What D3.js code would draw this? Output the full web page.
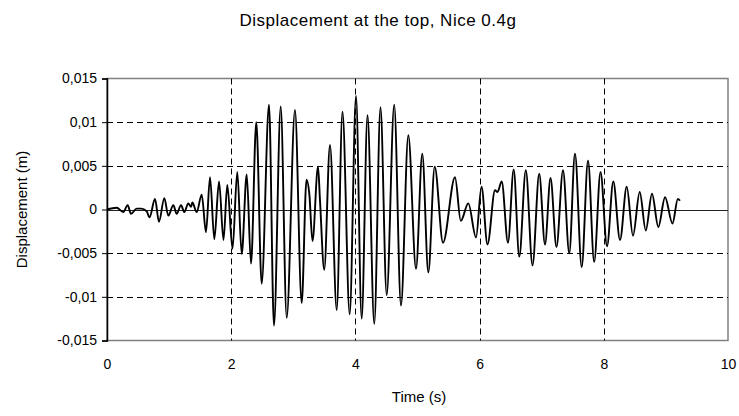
<!DOCTYPE html>
<html>
<head>
<meta charset="utf-8">
<script src="https://cdn.jsdelivr.net/npm/d3@7/dist/d3.min.js"></script>
<style>
  html, body { margin: 0; padding: 0; background: #fff; }
  svg text { font-family: "Liberation Sans", Arial, sans-serif; fill: #000; }
</style>
</head>
<body>
<svg id="chart" width="739" height="416"></svg>
<script>
// ---- data ----
const title = "Displacement at the top, Nice 0.4g";
const xLabel = "Time (s)";
const yLabel = "Displacement (m)";
const xTicks = [0, 2, 4, 6, 8, 10];
const yTicks = [-0.015, -0.01, -0.005, 0, 0.005, 0.01, 0.015];
const yTickLabels = ["-0,015", "-0,01", "-0,005", "0", "0,005", "0,01", "0,015"];

// time (s) of each turning point of the trace
const time = [
  0, 0.156, 0.262, 0.333, 0.386, 0.478, 0.55, 0.639, 0.684, 0.773,
  0.837, 0.923, 0.987, 1.068, 1.122, 1.192, 1.245, 1.309, 1.353, 1.374,
  1.444, 1.525, 1.594, 1.659, 1.728, 1.804, 1.876, 1.937, 2.021, 2.098,
  2.169, 2.25, 2.319, 2.404, 2.491, 2.609, 2.689, 2.797, 2.894, 3.027,
  3.135, 3.213, 3.258, 3.309, 3.398, 3.43, 3.498, 3.591, 3.699, 3.792,
  3.908, 4.01, 4.101, 4.195, 4.304, 4.404, 4.504, 4.625, 4.734, 4.852,
  4.976, 5.077, 5.174, 5.277, 5.411, 5.604, 5.697, 5.818, 5.942, 6.031,
  6.127, 6.248, 6.288, 6.356, 6.457, 6.549, 6.639, 6.744, 6.852, 6.96,
  7.053, 7.142, 7.238, 7.343, 7.444, 7.536, 7.644, 7.746, 7.845, 7.947,
  8.052, 8.153, 8.261, 8.369, 8.47, 8.578, 8.676, 8.776, 8.878, 8.986,
  9.106, 9.192, 9.227
];
// displacement (m) at those points
const displacement = [
  0, 0.0002, -0.0003, 0.0005, -0.0005, 0.0001, 0.0001, -0.0002, -0.0009, 0.0012,
  -0.0014, 0.0013, -0.0007, 0.0005, -0.0005, 0.0005, -0.0003, 0.0007, 0.0003, 0.0008,
  -0.0003, 0.0017, -0.0026, 0.0037, -0.0034, 0.0032, -0.0035, 0.0028, -0.0045, 0.0043,
  -0.0051, 0.0040, -0.0062, 0.0100, -0.0085, 0.0120, -0.0133, 0.0118, -0.0124, 0.0114,
  -0.0107, 0.0034, 0.0018, -0.0036, 0.0049, 0.0010, -0.0069, 0.0074, -0.0115, 0.0112,
  -0.0120, 0.0130, -0.0125, 0.0108, -0.0131, 0.0117, -0.0098, 0.0120, -0.0110, 0.0085,
  -0.0068, 0.0064, -0.0072, 0.0049, -0.0038, 0.0037, -0.0013, 0.0007, -0.0032, 0.0026,
  -0.0040, 0.0022, 0.0020, 0.0032, -0.0038, 0.0046, -0.0054, 0.0045, -0.0064, 0.0041,
  -0.0040, 0.0036, -0.0043, 0.0045, -0.0050, 0.0064, -0.0066, 0.0056, -0.0060, 0.0043,
  -0.0042, 0.0032, -0.0035, 0.0026, -0.0030, 0.0020, -0.0024, 0.0018, -0.0020, 0.0014,
  -0.0016, 0.0012, 0.0010
];

// ---- drawing ----
const svg = d3.select("#chart");
const mLeft = 107, mRight = 728, mTop = 78.5, mBottom = 340.5;

const x = d3.scaleLinear().domain([0, 10]).range([mLeft, mRight]);
const y = d3.scaleLinear().domain([-0.015, 0.015]).range([mBottom, mTop]);

// plot frame
svg.append("rect")
  .attr("x", mLeft).attr("y", mTop)
  .attr("width", mRight - mLeft).attr("height", mBottom - mTop)
  .attr("fill", "#fff").attr("stroke", "#808080").attr("stroke-width", 1.5);

// horizontal dashed gridlines
svg.append("g").selectAll("line")
  .data(yTicks.filter(v => v !== 0 && Math.abs(v) < 0.015))
  .join("line")
  .attr("x1", mLeft).attr("x2", mRight)
  .attr("y1", d => Math.round(y(d)) + 0.5).attr("y2", d => Math.round(y(d)) + 0.5)
  .attr("stroke", "#000").attr("stroke-width", 1).attr("stroke-dasharray", "6,4");

// vertical dashed gridlines
svg.append("g").selectAll("line")
  .data(xTicks.filter(v => v > 0 && v < 10))
  .join("line")
  .attr("x1", d => Math.round(x(d)) + 0.5).attr("x2", d => Math.round(x(d)) + 0.5)
  .attr("y1", mTop).attr("y2", mBottom)
  .attr("stroke", "#000").attr("stroke-width", 1).attr("stroke-dasharray", "6,4");

// zero line (horizontal axis)
svg.append("line")
  .attr("x1", mLeft).attr("x2", mRight)
  .attr("y1", Math.round(y(0)) + 0.5).attr("y2", Math.round(y(0)) + 0.5)
  .attr("stroke", "#222").attr("stroke-width", 1);

// y axis
const yAxis = d3.axisLeft(y).tickValues(yTicks)
  .tickFormat((d, i) => yTickLabels[i]).tickSize(5).tickPadding(5);
const gy = svg.append("g").attr("transform", `translate(${mLeft},0)`).call(yAxis);
gy.select(".domain").attr("stroke", "#000").attr("stroke-width", 1.5);
gy.selectAll(".tick line").attr("stroke", "#000");
gy.selectAll(".tick text").attr("font-size", 14)
  .attr("font-family", "Liberation Sans, Arial, sans-serif");

// x axis labels (at bottom, no ticks)
const xAxis = d3.axisBottom(x).tickValues(xTicks).tickSize(0).tickPadding(19);
const gx = svg.append("g").attr("transform", `translate(0,${mBottom})`).call(xAxis);
gx.select(".domain").remove();
gx.selectAll(".tick text").attr("font-size", 14)
  .attr("font-family", "Liberation Sans, Arial, sans-serif");

// data line
const line = d3.line()
  .x((d, i) => x(time[i]))
  .y(d => y(d))
  .curve(d3.curveMonotoneX);
svg.append("path")
  .datum(displacement)
  .attr("d", line)
  .attr("fill", "none")
  .attr("stroke", "#000")
  .attr("stroke-width", 1.9)
  .attr("stroke-linejoin", "round");

// titles
svg.append("text").attr("x", 378).attr("y", 26)
  .attr("text-anchor", "middle").attr("font-size", 17)
  .attr("letter-spacing", 0.5).text(title);
svg.append("text").attr("x", 419).attr("y", 402)
  .attr("text-anchor", "middle").attr("font-size", 15).text(xLabel);
svg.append("text")
  .attr("transform", `translate(27,${(mTop + mBottom) / 2}) rotate(-90)`)
  .attr("text-anchor", "middle").attr("font-size", 15).text(yLabel);
</script>
</body>
</html>
